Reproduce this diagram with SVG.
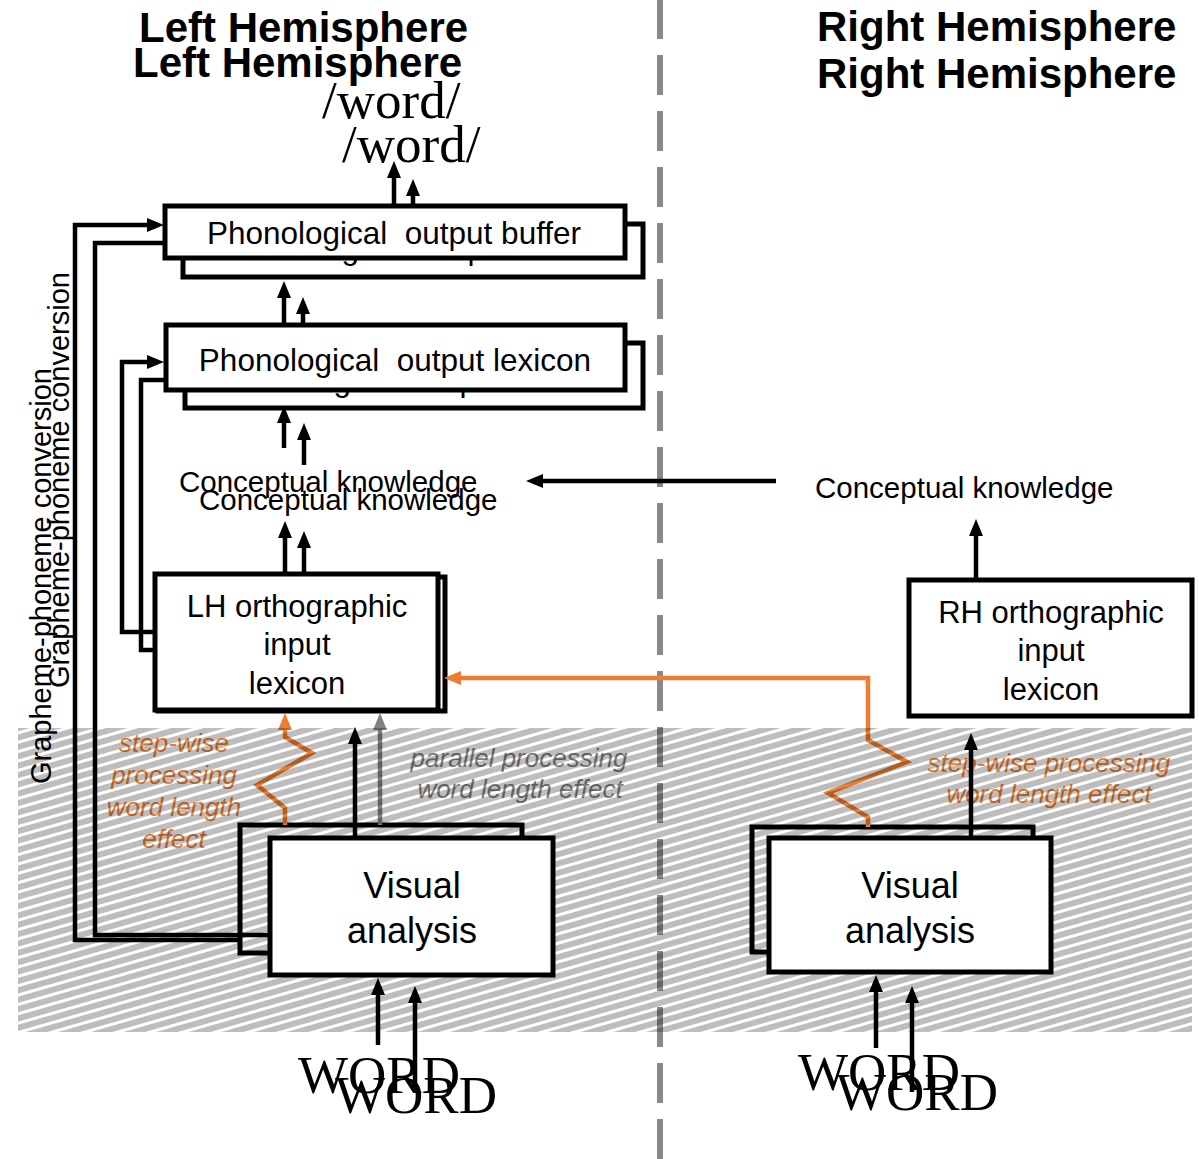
<svg xmlns="http://www.w3.org/2000/svg" width="1199" height="1159" viewBox="0 0 1199 1159">
<defs>
<style>
.t{font-family:"Liberation Sans",Arial,sans-serif;fill:#000}
.title{font-size:42px;font-weight:bold}
.lbl{font-size:31px;text-anchor:middle}
.ph{font-size:31.5px;text-anchor:middle}
.ck{font-size:29.5px}
.gpc{font-size:29px}
.va{font-size:36px;text-anchor:middle}
.ser{font-family:"Liberation Serif","Times New Roman",serif;fill:#000;font-size:53px}
.or{font-family:"Liberation Sans",Arial,sans-serif;font-size:26px;font-style:italic;fill:#ED7D31;text-anchor:middle}
.gy{font-family:"Liberation Sans",Arial,sans-serif;font-size:26px;font-style:italic;fill:#808080;text-anchor:middle}
.box{fill:#fff;stroke:#000;stroke-width:5}
.bk{fill:none;stroke:#000;stroke-width:5}
.ln{fill:none;stroke:#000;stroke-width:4.5}
.arr{fill:none;stroke:#000;stroke-width:4.5;marker-end:url(#ah)}
.oarr{fill:none;stroke:#ED7D31;stroke-width:4.5;marker-end:url(#ahO)}
.garr{fill:none;stroke:#808080;stroke-width:4.5;marker-end:url(#ahG)}
</style>
<marker id="ah" markerUnits="userSpaceOnUse" markerWidth="17" markerHeight="14" viewBox="0 0 17 14" refX="1" refY="7" orient="auto"><path d="M0,0 L17,7 L0,14z" fill="#000"/></marker>
<marker id="ahO" markerUnits="userSpaceOnUse" markerWidth="17" markerHeight="14" viewBox="0 0 17 14" refX="1" refY="7" orient="auto"><path d="M0,0 L17,7 L0,14z" fill="#ED7D31"/></marker>
<marker id="ahG" markerUnits="userSpaceOnUse" markerWidth="17" markerHeight="14" viewBox="0 0 17 14" refX="1" refY="7" orient="auto"><path d="M0,0 L17,7 L0,14z" fill="#808080"/></marker>
<pattern id="hatch" patternUnits="userSpaceOnUse" width="9" height="9" patternTransform="rotate(-16)">
<rect x="0" y="0" width="9" height="6" fill="#000" fill-opacity="0.26"/>
</pattern>
</defs>
<rect x="0" y="0" width="1199" height="1159" fill="#fff"/>

<!-- hemisphere divider -->
<line x1="660" y1="-1" x2="660" y2="1159" stroke="#898989" stroke-width="6" stroke-dasharray="40 16"/>

<!-- titles -->
<g id="titles">
<text class="t title" x="139" y="42">Left Hemisphere</text>
<text class="t title" x="133" y="77">Left Hemisphere</text>
<text class="t title" x="817" y="41">Right Hemisphere</text>
<text class="t title" x="817" y="88">Right Hemisphere</text>
</g>

<g id="output-word">
<text class="ser" x="322" y="118">/word/</text>
<text class="ser" x="342" y="162">/word/</text>
</g>

<!-- back copies of boxes -->
<g id="phon-buffer-back">
<rect class="box" x="183" y="224" width="460" height="53"/>
<text class="t ph" x="413" y="259">Phonological&#160; output buffer</text>
</g>
<g id="phon-lexicon-back">
<rect class="box" x="185" y="343" width="458" height="65"/>
<text class="t ph" x="414" y="391">Phonological&#160; output lexicon</text>
</g>
<g id="lh-ortho-back">
<rect class="bk" x="158" y="577" width="287" height="134"/>
</g>
<g id="lh-visual-back">
<rect class="bk" x="240" y="825" width="282" height="128"/>
</g>
<g id="rh-visual-back">
<rect class="bk" x="752" y="827" width="281" height="125"/>
</g>

<!-- labels not in boxes -->
<g id="conceptual-lh">
<text class="t ck" x="179" y="492">Conceptual knowledge</text>
<text class="t ck" x="199" y="510">Conceptual knowledge</text>
</g>
<g id="conceptual-rh">
<text class="t ck" x="815" y="498">Conceptual knowledge</text>
</g>
<g id="gpc-label">
<text class="t gpc" transform="translate(51,784) rotate(-90)">Grapheme-phoneme conversion</text>
<text class="t gpc" transform="translate(69,688) rotate(-90)">Grapheme-phoneme conversion</text>
</g>
<g id="effect-labels">
<text class="or" x="174" y="752">step-wise</text>
<text class="or" x="174" y="784">processing</text>
<text class="or" x="174" y="816">word length</text>
<text class="or" x="174" y="848">effect</text>
<text class="gy" x="519" y="767">parallel processing</text>
<text class="gy" x="520" y="798">word length effect</text>
<text class="or" x="1049" y="772">step-wise processing</text>
<text class="or" x="1049" y="803">word length effect</text>
</g>
<g id="input-word">
<text class="ser" x="298" y="1093">WORD</text>
<text class="ser" x="335" y="1113">WORD</text>
<text class="ser" x="798" y="1090">WORD</text>
<text class="ser" x="836" y="1110">WORD</text>
</g>

<!-- connectors -->
<g id="connectors">
<polyline class="ln" points="270,935 95,935 95,243 183,243"/>
<polyline class="arr" points="240,940 75,940 75,225 148,225"/>
<polyline class="ln" points="158,650 141,650 141,380 185,380"/>
<polyline class="arr" points="155,632 122,632 122,362 148,362"/>
<line class="arr" x1="394" y1="206" x2="394" y2="177"/>
<line class="arr" x1="413" y1="224" x2="413" y2="195"/>
<line class="arr" x1="284" y1="325" x2="284" y2="297"/>
<line class="arr" x1="303" y1="325" x2="303" y2="313"/>
<line class="arr" x1="284" y1="448" x2="284" y2="422"/>
<line class="arr" x1="304" y1="465" x2="304" y2="439"/>
<line class="arr" x1="285" y1="572" x2="285" y2="537"/>
<line class="arr" x1="304" y1="575" x2="304" y2="547"/>
<line class="arr" x1="776" y1="481" x2="542" y2="481"/>
<line class="arr" x1="976" y1="578" x2="976" y2="535"/>
<line class="arr" x1="971" y1="838" x2="971" y2="749"/>
<line class="arr" x1="355" y1="838" x2="355" y2="743"/>
<line class="garr" x1="380" y1="825" x2="380" y2="729"/>
<polyline class="oarr" points="285,825 285,808 257,785 312,753 285,737 285,729"/>
<polyline class="oarr" points="868,827 868,817 828,793 907,762 868,740 868,678 460,678"/>
<line class="arr" x1="378" y1="1045" x2="378" y2="994"/>
<line class="arr" x1="415" y1="1092" x2="415" y2="1002"/>
<line class="arr" x1="876" y1="1048" x2="876" y2="991"/>
<line class="arr" x1="912" y1="1092" x2="912" y2="1002"/>
</g>

<!-- hatched region -->
<rect x="18" y="728" width="1174" height="304" fill="url(#hatch)"/>

<!-- front boxes -->
<g id="phon-buffer">
<rect class="box" x="165" y="206" width="460" height="52"/>
<text class="t ph" x="394" y="244">Phonological&#160; output buffer</text>
</g>
<g id="phon-lexicon">
<rect class="box" x="166" y="325" width="459" height="65"/>
<text class="t ph" x="395" y="371">Phonological&#160; output lexicon</text>
</g>
<g id="lh-ortho">
<rect class="box" x="155" y="574" width="283" height="136"/>
<text class="t lbl" x="297" y="617">LH orthographic</text>
<text class="t lbl" x="297" y="655">input</text>
<text class="t lbl" x="297" y="694">lexicon</text>
</g>
<g id="rh-ortho">
<rect class="box" x="909" y="580" width="283" height="136"/>
<text class="t lbl" x="1051" y="623">RH orthographic</text>
<text class="t lbl" x="1051" y="661">input</text>
<text class="t lbl" x="1051" y="700">lexicon</text>
</g>
<g id="lh-visual">
<rect class="box" x="270" y="838" width="283" height="137"/>
<text class="t va" x="412" y="898">Visual</text>
<text class="t va" x="412" y="943">analysis</text>
</g>
<g id="rh-visual">
<rect class="box" x="769" y="838" width="282" height="134"/>
<text class="t va" x="910" y="898">Visual</text>
<text class="t va" x="910" y="943">analysis</text>
</g>
</svg>
